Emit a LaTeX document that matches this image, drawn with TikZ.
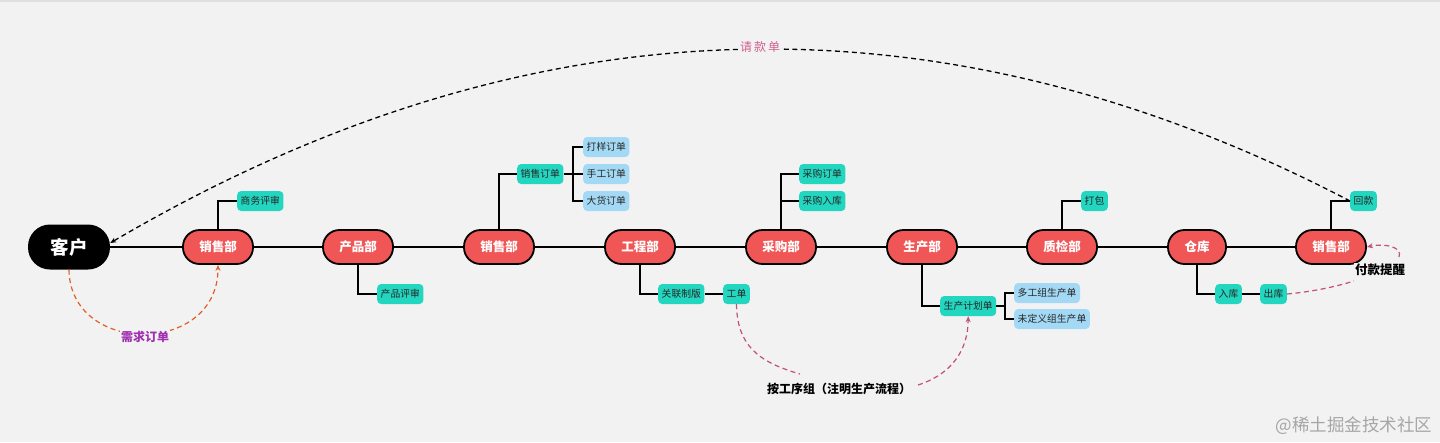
\documentclass[tikz,border=0pt]{standalone}
\usepackage{fontspec}
\setmainfont{Noto Sans CJK SC}
\usetikzlibrary{arrows.meta}
\definecolor{bg}{HTML}{F2F2F2}
\definecolor{deptred}{HTML}{F05656}
\definecolor{tealc}{HTML}{22D6C0}
\definecolor{lblue}{HTML}{A3D9F5}
\definecolor{pinkd}{HTML}{C0507C}
\definecolor{pinkl}{HTML}{D0628E}
\definecolor{orangec}{HTML}{E0602A}
\definecolor{purplel}{HTML}{A030B0}
\begin{document}
\begin{tikzpicture}[x=1pt,y=-1pt]
\tikzset{
 client/.style={fill=black, text=white, rounded corners=22pt, minimum width=82pt, minimum height=45pt, inner sep=0pt, font=\fontsize{18.5}{20}\selectfont\bfseries},
 dept/.style={draw=black, line width=1.8pt, fill=deptred, text=white, rounded corners=16.5pt, minimum width=70pt, minimum height=34pt, inner sep=0pt, font=\fontsize{12.5}{14}\selectfont\bfseries},
 tag/.style={fill=tealc, rounded corners=4pt, minimum height=20pt, inner xsep=3.5pt, inner ysep=0pt, text=black!85, font=\fontsize{9.8}{11}\selectfont, anchor=west},
 sub/.style={tag, fill=lblue},
 link/.style={line width=1.4pt, black},
 mainline/.style={line width=2pt, black},
 dsh/.style={dash pattern=on 5pt off 3.5pt, line width=1.2pt},
 tip/.style={-{Stealth[length=6pt,width=5pt]}},
 lbl/.style={fill=bg, inner sep=1pt, font=\fontsize{12}{14}\selectfont\bfseries},
}
\fill[bg] (0,0) rectangle (1440,442);
\useasboundingbox (0,0) rectangle (1440,442);
\draw[line width=1.5pt, black!12] (0,0.8) -- (1440,0.8);

% departments
\node[client] (kh) at (69,247) {客户};
\node[dept] (s1) at (218,247) {销售部};
\node[dept] (cp) at (358,247) {产品部};
\node[dept] (s2) at (499,247) {销售部};
\node[dept] (gc) at (640,247) {工程部};
\node[dept] (cg) at (781,247) {采购部};
\node[dept] (sc) at (922,247) {生产部};
\node[dept] (zj) at (1062,247) {质检部};
\node[dept, minimum width=58pt] (ck) at (1197,247) {仓库};
\node[dept] (s3) at (1331,247) {销售部};

% tags
\node[tag] (swps) at (237,201) {商务评审};
\node[tag] (cpps) at (377,294) {产品评审};
\node[tag] (xsdd) at (517,174) {销售订单};
\node[sub] (dy) at (583,147) {打样订单};
\node[sub] (sg) at (583,174) {手工订单};
\node[sub] (dh) at (583,201) {大货订单};
\node[tag] (glzb) at (658,294) {关联制版};
\node[tag] (gd) at (723,294) {工单};
\node[tag] (cgdd) at (799,174) {采购订单};
\node[tag] (cgrk) at (799,201) {采购入库};
\node[tag] (jh) at (940,306) {生产计划单};
\node[sub] (dgz) at (1014,293) {多工组生产单};
\node[sub] (wdy) at (1014,319) {未定义组生产单};
\node[tag] (db) at (1081,201) {打包};
\node[tag] (rk) at (1215,294) {入库};
\node[tag] (chk) at (1260,294) {出库};
\node[tag] (hk) at (1350,201) {回款};

% main line
\draw[mainline] (kh) -- (s1);
\draw[mainline] (s1) -- (cp);
\draw[mainline] (cp) -- (s2);
\draw[mainline] (s2) -- (gc);
\draw[mainline] (gc) -- (cg);
\draw[mainline] (cg) -- (sc);
\draw[mainline] (sc) -- (zj);
\draw[mainline] (zj) -- (ck);
\draw[mainline] (ck) -- (s3);

% branches
\draw[link] (s1.north) |- (swps.west);
\draw[link] (cp.south) |- (cpps.west);
\draw[link] (s2.north) |- (xsdd.west);
\coordinate (b1) at (573,174);
\draw[link] (xsdd.east) -- (b1);
\draw[link] (b1) |- (dy.west);
\draw[link] (b1) -- (sg.west);
\draw[link] (b1) |- (dh.west);
\draw[link] (gc.south) |- (glzb.west);
\draw[link] (glzb.east) -- (gd.west);
\draw[link] (cg.north) |- (cgdd.west);
\draw[link] (cg.north) |- (cgrk.west);
\draw[link] (sc.south) |- (jh.west);
\coordinate (b2) at (1005,306);
\draw[link] (jh.east) -- (b2);
\draw[link] (b2) |- (dgz.west);
\draw[link] (b2) |- (wdy.west);
\draw[link] (zj.north) |- (db.west);
\draw[link] (ck.south) |- (rk.west);
\draw[link] (rk.east) -- (chk.west);
\draw[link] (s3.north) |- (hk.west);

% 请款单
\draw[dsh, black, line width=1.3pt, tip] (hk.west) .. controls (936,-15) and (524,0) .. ([yshift=4pt]kh.east);
\node[fill=bg, inner sep=1.5pt, text=pinkl, font=\fontsize{12}{14}\selectfont] (qkd) at (760,47) {请\,款\,单};

% 需求订单
\draw[dsh, orangec, tip] (kh.south) .. controls (70,356) and (218,356) .. (s1.south);
\node[lbl, text=purplel] (xqdd) at (145,337) {需求订单};

% 按工序组
\node[lbl, text=black, font=\fontsize{12}{14}\selectfont\bfseries] (ags) at (839,389) {按工序组（注明生产流程）};
\coordinate (g1) at (800,374);
\coordinate (g2) at (918,385);
\draw[dsh, pinkd] (gd.south) .. controls (737,345) and (758,362) .. (g1);
\draw[dsh, pinkd, tip] (g2) .. controls (952,374) and (968,350) .. (jh.south);

% 付款提醒
\node[lbl, text=black, font=\fontsize{12.5}{14}\selectfont\bfseries] (fk) at (1380,270) {付款提醒};
\coordinate (f1) at (1354,281);
\coordinate (f2) at (1399,257);
\draw[dsh, pinkd] (chk.east) .. controls (1310,292) and (1335,287) .. (f1);
\draw[dsh, pinkd, tip] (f2) .. controls (1403,247) and (1385,243) .. (s3.east);

% watermark
\node[text=black!35, font=\fontsize{17.5}{19}\selectfont] (wm) at (1354,426) {@稀土掘金技术社区};
\end{tikzpicture}
\end{document}
